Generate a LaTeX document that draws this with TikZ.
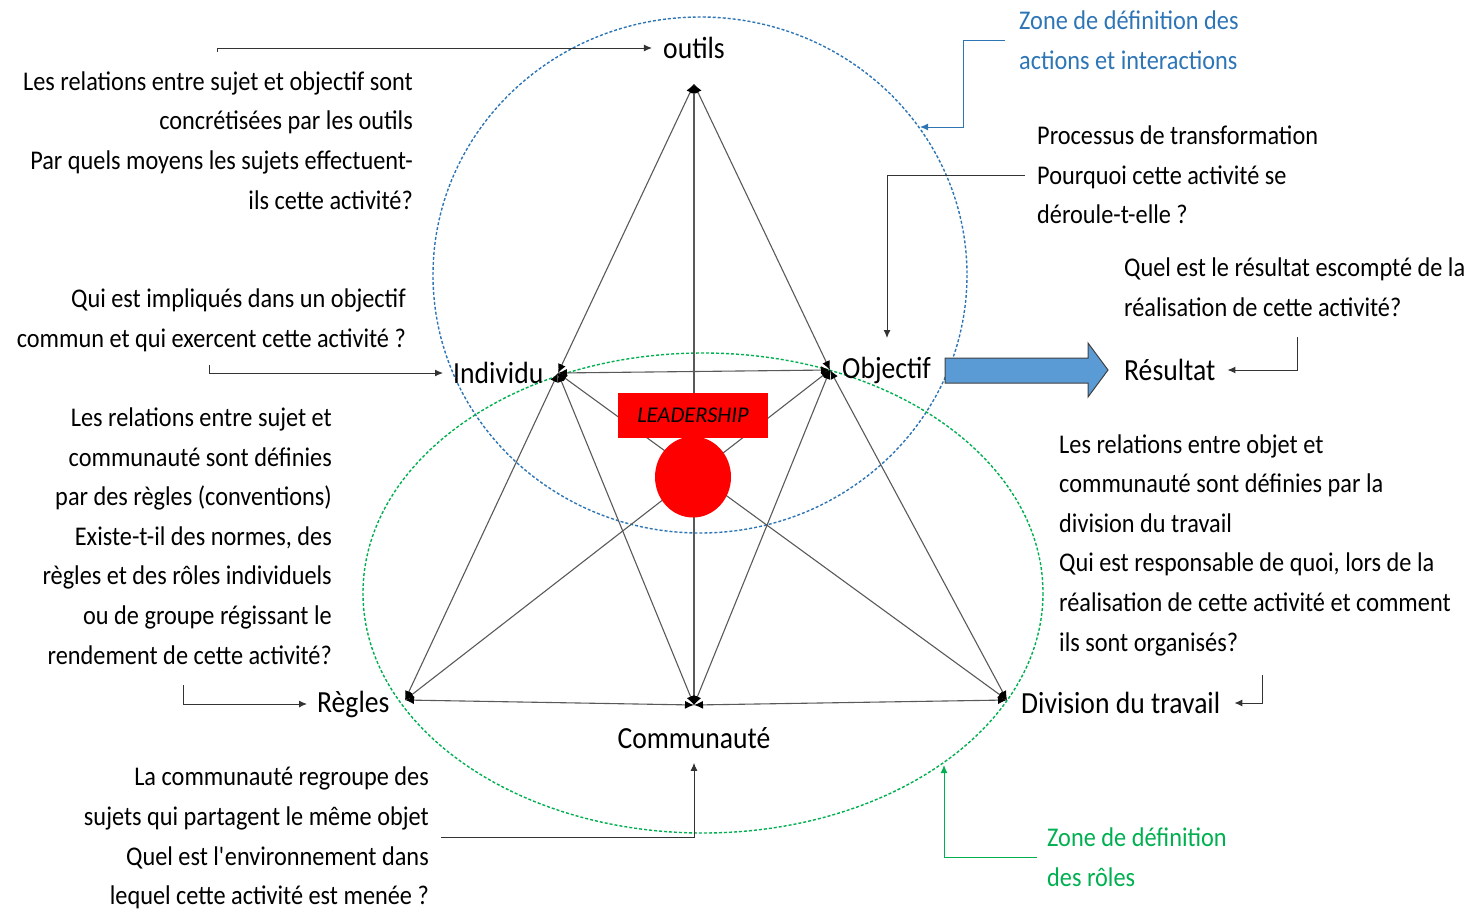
\documentclass[tikz,border=0pt]{standalone}
\usepackage{fontspec}
\setmainfont[FakeStretch=0.90]{Carlito}
\newfontfamily\leadfont{Carlito}
\usetikzlibrary{arrows.meta,shapes.geometric}
\definecolor{zoneblue}{RGB}{46,117,182}
\definecolor{zonegreen}{RGB}{0,176,80}
\definecolor{fatblue}{RGB}{91,155,213}

\begin{document}
\begin{tikzpicture}
	[x=1pt,y=-1pt,
	every node/.style={inner sep=0pt,font=\fontsize{27}{39.6}\selectfont},
	vlabel/.style={font=\fontsize{30.7}{36}\selectfont},
	edge/.style={draw=black!65,line width=1.1pt,
		{Latex[length=9pt,width=8pt,black]}-{Latex[length=9pt,width=8pt,black]}},
	note/.style={draw=black!80,line width=1pt,-{Latex[length=8pt,width=7pt]}},
	zone/.style={dashed,dash pattern=on 3pt off 2pt,line width=1.4pt}]
	\useasboundingbox (0,0) rectangle (1478,911);
	% vertices
	\coordinate (out) at (694,84);
	\coordinate (ind) at (558,373);
	\coordinate (obj) at (830,370);
	\coordinate (reg) at (405,700);
	\coordinate (com) at (694,705);
	\coordinate (div) at (1007,700);
	% zones
	\draw [zone,zoneblue] (700,275) ellipse [x radius=267,y radius=258];
	\draw [zone,zonegreen] (703,593) ellipse [x radius=340,y radius=240];
	% triangle
	\draw [edge] (out) -- (ind);
	\draw [edge] (out) -- (obj);
	\draw [edge] (out) -- (com);
	\draw [edge] (ind) -- (obj);
	\draw [edge] (ind) -- (reg);
	\draw [edge] (ind) -- (com);
	\draw [edge] (ind) -- (div);
	\draw [edge] (obj) -- (reg);
	\draw [edge] (obj) -- (com);
	\draw [edge] (obj) -- (div);
	\draw [edge] (reg) -- (com);
	\draw [edge] (com) -- (div);
	% leadership
	\node (lead) [fill=red,ellipse,minimum width=76pt,minimum height=81pt] at (693,477) {};
	\node (leadbox) [fill=red,minimum width=150pt,minimum height=45pt,
		font=\leadfont\fontsize{22.5}{26}\selectfont\itshape] at (693,415.5) {LEADERSHIP};
	% vertex labels
	\node (outl) [vlabel] at (694,48) {outils};
	\node (indl) [vlabel,anchor=west] at (453,373) {Individu};
	\node (objl) [vlabel,anchor=west] at (842,370) {Objectif};
	\node (regl) [vlabel,anchor=west] at (317,704) {Règles};
	\node (coml) [vlabel] at (694,738) {Communauté};
	\node (divl) [vlabel,anchor=west] at (1021,703) {Division du travail};
	\node (resl) [vlabel,anchor=west] at (1124,370) {Résultat};
	% result arrow
	\draw [fill=fatblue,draw=black!75,line width=1pt] (945,358) -- (1088,358) -- (1088,343)
		-- (1108,370) -- (1088,397) -- (1088,383) -- (945,383) -- cycle;
	% texts
	\node (t1) [anchor=east,align=right] at (413,140.5)
		{Les relations entre sujet et objectif sont\\concrétisées par les outils\\Par quels moyens les sujets effectuent-\\ils cette activité?};
	\node (t2) [anchor=east,align=right] at (406,320)
		{Qui est impliqués dans un objectif\\commun et qui exercent cette activité ?};
	\node (t3) [anchor=east,align=right] at (332,536)
		{Les relations entre sujet et\\communauté sont définies\\par des règles (conventions)\\Existe-t-il des normes, des\\règles et des rôles individuels\\ou de groupe régissant le\\rendement de cette activité?};
	\node (t4) [anchor=east,align=right] at (429,838)
		{La communauté regroupe des\\sujets qui partagent le même objet\\Quel est l\textquotesingle environnement dans\\lequel cette activité est menée ?};
	\node (t5) [anchor=west,align=left] at (1037,175)
		{Processus de transformation\\Pourquoi cette activité se\\déroule-t-elle ?};
	\node (t6) [anchor=west,align=left] at (1124,287.5)
		{Quel est le résultat escompté de la\\réalisation de cette activité?};
	\node (t7) [anchor=west,align=left] at (1059,545)
		{Les relations entre objet et\\communauté sont définies par la\\division du travail\\Qui est responsable de quoi, lors de la\\réalisation de cette activité et comment\\ils sont organisés?};
	\node (zb) [anchor=west,align=left,text=zoneblue] at (1019,40)
		{Zone de définition des\\actions et interactions};
	\node (zg) [anchor=west,align=left,text=zonegreen] at (1047,857.5)
		{Zone de définition\\des rôles};
	% pointers
	\coordinate (objtop) at (887,338);
	\coordinate (bluetip) at (920,127);
	\coordinate (greentip) at (944,765);
	\draw [note] (217,52) |- ([xshift=-11pt]outl.west);
	\draw [note] (209,365) |- ([xshift=-10pt]indl.west);
	\draw [note] (183,685) |- ([xshift=-10pt]regl.west);
	\draw [note] (441,837) -| ([yshift=-14pt]coml.south);
	\draw [note] ([xshift=-12pt]t5.west) -| (objtop);
	\draw [note] (1297,337) |- ([xshift=12pt]resl.east);
	\draw [note] (1262,675) |- ([xshift=14pt]divl.east);
	\draw [note,draw=zoneblue] ([xshift=-14pt]zb.west) -| (963,127) -- (bluetip);
	\draw [note,draw=zonegreen] ([xshift=-10pt]zg.west) -| (greentip);
\end{tikzpicture}
\end{document}
